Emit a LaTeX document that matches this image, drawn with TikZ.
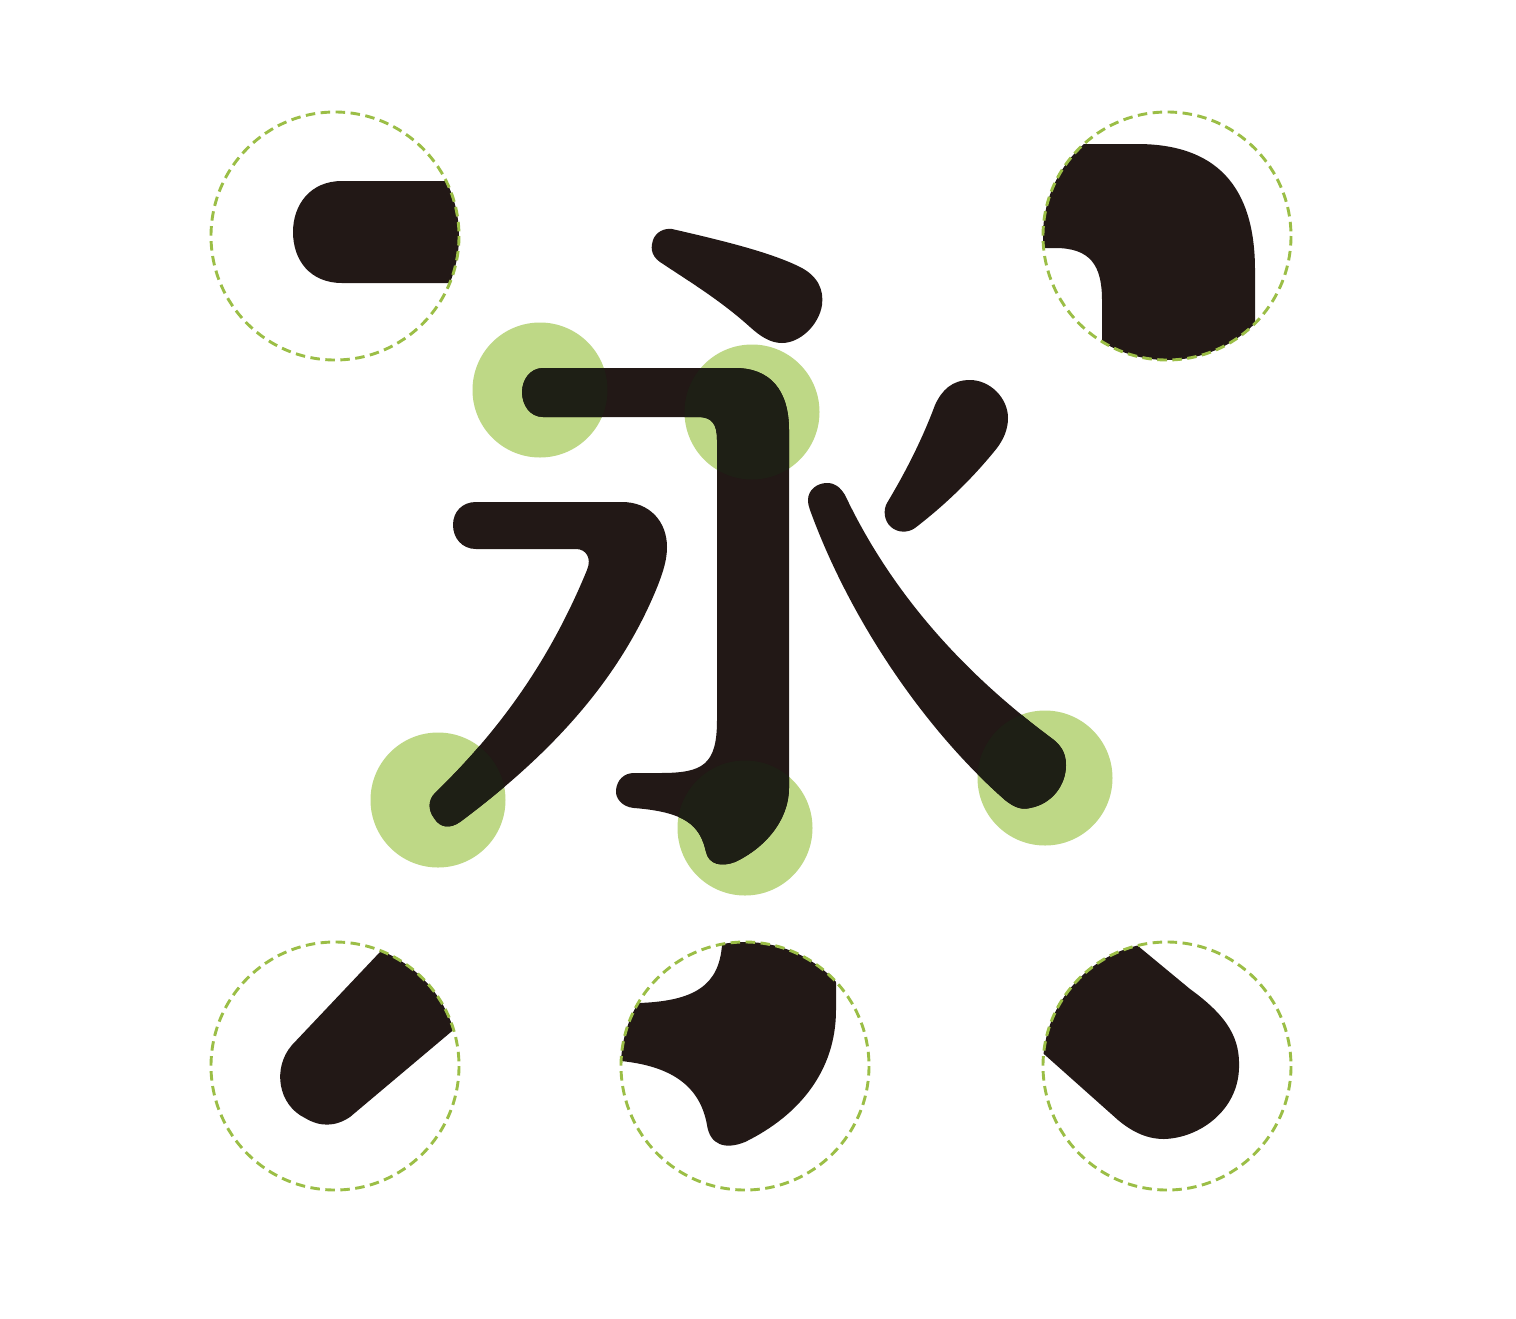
\documentclass[tikz,border=0pt]{standalone}
\definecolor{ink}{RGB}{34,24,22}
\definecolor{inkover}{RGB}{30,31,21}
\definecolor{softgreen}{RGB}{190,216,134}
\definecolor{dashgreen}{RGB}{155,190,70}
\tikzset{
  glyph/.style={fill=ink},
  zoomring/.style={draw=dashgreen,line width=2.9pt,dash pattern=on 9.5pt off 5.5pt},
  spot/.style={fill=softgreen}
}
\newcommand\yongshape[1]{%
  % top dot
  \fill[#1] (672,229) .. controls (720,240) and (770,252) .. (800,267)
    .. controls (818,276) and (824,290) .. (822,305)
    .. controls (819,325) and (800,343) .. (782,343)
    .. controls (770,343) and (760,336) .. (750,327)
    .. controls (720,300) and (690,282) .. (660,262)
    .. controls (650,255) and (651,246) .. (653,240)
    .. controls (656,232) and (664,228) .. (672,229) -- cycle;
  % horizontal + vertical hook
  \fill[#1] (543,368) -- (735,368) .. controls (770,368) and (789,390) .. (789,430)
    -- (789,788) .. controls (789,820) and (765,848) .. (735,862)
    .. controls (722,867) and (709,865) .. (706,852)
    .. controls (700,825) and (685,812) .. (634,808)
    .. controls (622,807) and (615,798) .. (616,790)
    .. controls (617,780) and (624,773) .. (634,773)
    -- (660,773) .. controls (703,773) and (717,765) .. (717,720)
    -- (717,440) .. controls (717,424) and (712,417) .. (698,417)
    -- (543,417) .. controls (530,417) and (522,405) .. (522,392)
    .. controls (522,380) and (530,368) .. (543,368) -- cycle;
  % left turning stroke
  \fill[#1] (476,502) -- (622,502) .. controls (650,502) and (667,522) .. (667,547)
    .. controls (667,560) and (663,572) .. (658,585)
    .. controls (620,680) and (550,755) .. (460,822)
    .. controls (450,829) and (440,828) .. (434,818)
    .. controls (428,810) and (428,800) .. (435,793)
    .. controls (500,730) and (550,660) .. (587,570)
    .. controls (592,558) and (586,549) .. (576,549)
    -- (476,549) .. controls (462,549) and (453,538) .. (453,525)
    .. controls (453,512) and (462,502) .. (476,502) -- cycle;
  % right long stroke
  \fill[#1] (827,483) .. controls (817,483) and (808,490) .. (808,500)
    .. controls (808,504) and (809,507) .. (810,510)
    .. controls (850,620) and (925,730) .. (1005,800)
    .. controls (1015,808) and (1022,810) .. (1030,808)
    .. controls (1052,804) and (1066,785) .. (1066,765)
    .. controls (1066,752) and (1060,744) .. (1050,737)
    .. controls (960,670) and (890,590) .. (845,495)
    .. controls (840,487) and (835,483) .. (827,483) -- cycle;
  % short right stroke
  \fill[#1] (970,380) .. controls (990,380) and (1008,398) .. (1008,418)
    .. controls (1008,430) and (1003,440) .. (997,448)
    .. controls (973,478) and (945,505) .. (915,528)
    .. controls (908,533) and (898,533) .. (891,527)
    .. controls (884,521) and (883,510) .. (887,503)
    .. controls (905,473) and (922,440) .. (935,405)
    .. controls (942,390) and (952,380) .. (970,380) -- cycle;
}
\begin{document}
\begin{tikzpicture}[x=1pt,y=-1pt]
\fill[white] (0,0) rectangle (1516,1318);
\useasboundingbox (0,0) rectangle (1516,1318);
% green spots
\foreach \cx/\cy in {540/390,752/412,438/800,745/828,1045/778}
  \fill[spot] (\cx,\cy) circle[radius=67.5];
% glyph
\yongshape{ink}
% overlap tint
\foreach \cx/\cy in {540/390,752/412,438/800,745/828,1045/778}{
  \begin{scope}
    \clip (\cx,\cy) circle[radius=67.5];
    \yongshape{inkover}
  \end{scope}
}
% detail: top-left
\begin{scope}
  \clip (335,236) circle[radius=124];
  \fill[glyph] (342,181) -- (480,181) -- (480,283) -- (342,283)
    .. controls (310,283) and (293,260) .. (293,232)
    .. controls (293,205) and (310,181) .. (342,181) -- cycle;
\end{scope}
\draw[zoomring] (335,236) circle[radius=124];
% detail: top-right
\begin{scope}
  \clip (1167,236) circle[radius=124];
  \fill[glyph] (1000,100) -- (1000,144) -- (1137,144)
    .. controls (1215,144) and (1255,185) .. (1255,270)
    -- (1255,400) -- (1102,400) -- (1102,300)
    .. controls (1102,265) and (1090,248) .. (1055,248)
    -- (1000,248) -- cycle;
\end{scope}
\draw[zoomring] (1167,236) circle[radius=124];
% detail: bottom-left
\begin{scope}
  \clip (335,1066) circle[radius=124];
  \fill[glyph] (450,878) -- (292,1045)
    .. controls (272,1068) and (278,1105) .. (305,1118)
    .. controls (320,1127) and (335,1127) .. (350,1117)
    -- (540,957) -- cycle;
\end{scope}
\draw[zoomring] (335,1066) circle[radius=124];
% detail: bottom-middle
\begin{scope}
  \clip (745,1066) circle[radius=124];
  \fill[glyph] (723,900) -- (722,945)
    .. controls (719,985) and (695,1001) .. (639,1003)
    -- (580,1006) -- (580,1058) -- (621,1061)
    .. controls (670,1066) and (700,1085) .. (707,1125)
    .. controls (710,1145) and (725,1150) .. (745,1142)
    .. controls (800,1115) and (836,1070) .. (836,1010)
    -- (836,900) -- cycle;
\end{scope}
\draw[zoomring] (745,1066) circle[radius=124];
% detail: bottom-right
\begin{scope}
  \clip (1167,1066) circle[radius=124];
  \fill[glyph] (1080,898) -- (1190,989)
    .. controls (1230,1018) and (1240,1040) .. (1239,1068)
    .. controls (1238,1110) and (1200,1138) .. (1164,1139)
    .. controls (1145,1139) and (1130,1130) .. (1118,1120)
    -- (990,1006) -- cycle;
\end{scope}
\draw[zoomring] (1167,1066) circle[radius=124];
\end{tikzpicture}
\end{document}
